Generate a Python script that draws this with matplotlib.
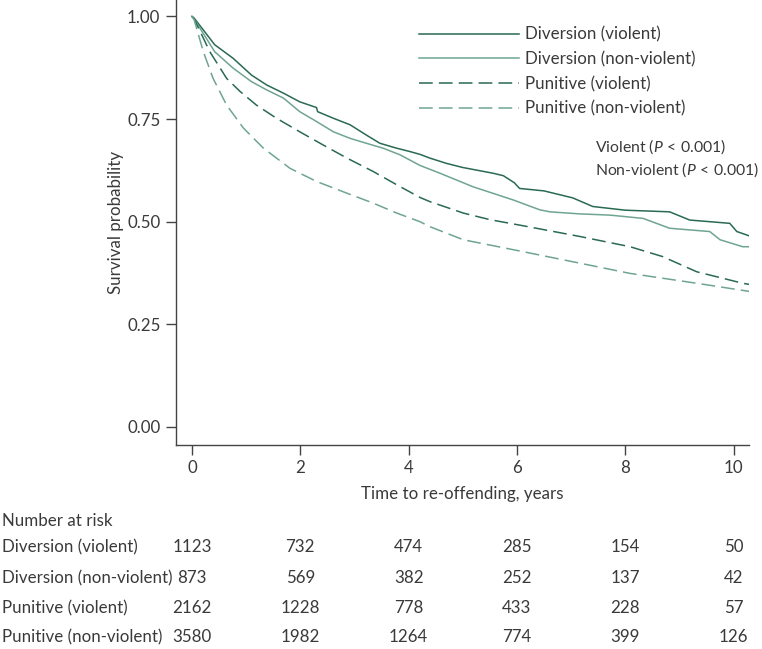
import numpy as np
import matplotlib
matplotlib.use('Agg')
import matplotlib.pyplot as plt
import matplotlib.transforms as mtransforms

plt.rcParams['font.family'] = ['Lato', 'DejaVu Sans']
plt.rcParams['mathtext.fontset'] = 'custom'
plt.rcParams['mathtext.rm'] = 'Lato'
plt.rcParams['mathtext.it'] = 'Lato:italic'

TXT = '#3a3a3a'
DARK = '#2a6a52'
LIGHT = '#6fa590'
FS = 12.2

# survival curves (years, probability)
div_v_t = [0, 0.04, 0.42, 0.76, 1.10, 1.38, 1.69, 1.99, 2.30, 2.32, 2.61, 2.92, 3.22, 3.47, 3.78, 4.02,
           4.21, 4.39, 4.70, 5.0, 5.56, 5.75, 5.95, 6.05, 6.5, 7.03, 7.40, 8.0, 8.82, 9.19, 9.93, 10.06, 10.30]
div_v_s = [1.0, 0.996, 0.931, 0.898, 0.857, 0.833, 0.813, 0.792, 0.778, 0.768, 0.752, 0.736, 0.711, 0.691, 0.679, 0.671,
           0.664, 0.655, 0.642, 0.632, 0.618, 0.612, 0.595, 0.581, 0.575, 0.558, 0.537, 0.528, 0.524, 0.504, 0.496, 0.476, 0.465]

div_nv_t = [0, 0.04, 0.42, 0.76, 1.10, 1.38, 1.69, 1.99, 2.30, 2.61, 2.92, 3.22, 3.53, 3.84, 4.21, 4.58,
            5.19, 5.93, 6.42, 6.61, 7.16, 7.72, 8.33, 8.82, 9.56, 9.75, 10.17, 10.30]
div_nv_s = [1.0, 0.994, 0.914, 0.874, 0.841, 0.821, 0.801, 0.768, 0.744, 0.719, 0.703, 0.691, 0.679, 0.663, 0.637, 0.618,
            0.585, 0.553, 0.529, 0.524, 0.519, 0.516, 0.508, 0.484, 0.476, 0.456, 0.439, 0.439]

pun_v_t = [0, 0.04, 0.33, 0.64, 0.89, 1.19, 1.56, 1.99, 2.42, 2.86, 3.35, 3.78, 4.21, 4.39, 5.01, 5.5,
           6.2, 7.16, 8.09, 8.69, 9.32, 10.17, 10.30]
pun_v_s = [1.0, 0.994, 0.914, 0.849, 0.817, 0.784, 0.752, 0.719, 0.687, 0.655, 0.622, 0.590, 0.559, 0.549, 0.521, 0.505,
           0.488, 0.464, 0.439, 0.415, 0.378, 0.350, 0.347]

pun_nv_t = [0, 0.04, 0.21, 0.39, 0.64, 0.95, 1.32, 1.81, 2.30, 2.79, 3.35, 3.78, 4.21, 4.39, 5.01, 6.0,
            7.16, 8.09, 9.32, 10.30]
pun_nv_s = [1.0, 0.992, 0.914, 0.849, 0.784, 0.728, 0.679, 0.630, 0.598, 0.573, 0.545, 0.521, 0.500, 0.488, 0.456, 0.430,
            0.399, 0.374, 0.350, 0.330]

series_labels = ['Diversion (violent)', 'Diversion (non-violent)', 'Punitive (violent)', 'Punitive (non-violent)']

# number at risk table
risk_times = [0, 2, 4, 6, 8, 10]
risk_div_v = [1123, 732, 474, 285, 154, 50]
risk_div_nv = [873, 569, 382, 252, 137, 42]
risk_pun_v = [2162, 1228, 778, 433, 228, 57]
risk_pun_nv = [3580, 1982, 1264, 774, 399, 126]

fig = plt.figure(figsize=(7.62, 6.49), dpi=100)
ax = fig.add_axes([0.2306, 0.3143, 0.7527, 0.6857])

dash = (0, (9, 4))
ax.plot(div_v_t, div_v_s, color=DARK, lw=1.1, label=series_labels[0])
ax.plot(div_nv_t, div_nv_s, color=LIGHT, lw=1.1, label=series_labels[1])
ax.plot(pun_v_t, pun_v_s, color=DARK, lw=1.1, ls=dash, label=series_labels[2])
ax.plot(pun_nv_t, pun_nv_s, color=LIGHT, lw=1.1, ls=dash, label=series_labels[3])

ax.set_xlim(-0.30, 10.29)
ax.set_ylim(-0.044, 1.04)
ax.set_xticks(risk_times)
ax.set_yticks([0, 0.25, 0.5, 0.75, 1.0])
ax.set_yticklabels(['0.00', '0.25', '0.50', '0.75', '1.00'])
for s in ['top', 'right']:
    ax.spines[s].set_visible(False)
for s in ['left', 'bottom']:
    ax.spines[s].set_color('#444444')
    ax.spines[s].set_linewidth(1.0)
ax.tick_params(axis='both', direction='out', length=7, width=1.0, color='#444444',
               labelsize=FS, labelcolor=TXT, pad=4)
ax.set_xlabel('Time to re-offending, years', fontsize=FS, color=TXT, labelpad=7)
ax.set_ylabel('Survival probability', fontsize=FS, color=TXT, labelpad=2)

leg = ax.legend(loc='upper left', bbox_to_anchor=(0.425, 0.94), frameon=False, fontsize=FS,
                handlelength=5.85, handletextpad=0.35, labelspacing=0.5, borderpad=0, borderaxespad=0)
for t in leg.get_texts():
    t.set_color(TXT)

ax.text(0.731, 0.670, r'Violent ($P\,{<}\,0.001$)', transform=ax.transAxes, fontsize=11.3, color=TXT, va='center')
ax.text(0.731, 0.618, r'Non-violent ($P\,{<}\,0.001$)', transform=ax.transAxes, fontsize=11.3, color=TXT, va='center')

# number at risk below the axes
tr = mtransforms.blended_transform_factory(ax.transData, fig.transFigure)
fig.text(0.003, 0.197, 'Number at risk', fontsize=FS, color=TXT, va='center')
rows = [risk_div_v, risk_div_nv, risk_pun_v, risk_pun_nv]
row_y = [0.157, 0.109, 0.063, 0.018]
for name, vals, y in zip(series_labels, rows, row_y):
    fig.text(0.003, y, name, fontsize=FS, color=TXT, va='center')
    for t, v in zip(risk_times, vals):
        ax.text(t, y, str(v), transform=tr, fontsize=FS, color=TXT, ha='center', va='center')

fig.savefig('out.png', dpi=100)
